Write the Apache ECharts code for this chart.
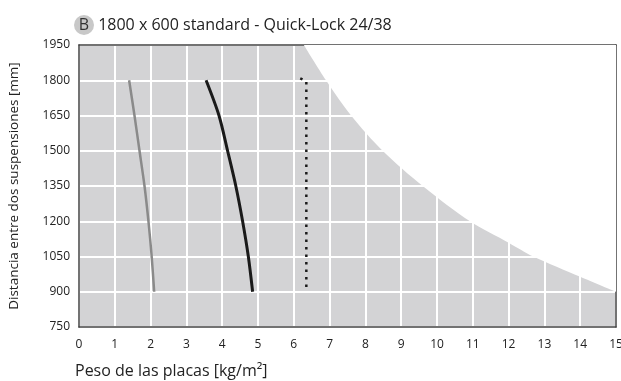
<!DOCTYPE html>
<html>
<head>
<meta charset="utf-8">
<script src="https://cdn.jsdelivr.net/npm/echarts@6/dist/echarts.min.js"></script>
<style>
  html, body { margin: 0; padding: 0; background: #fff; }
  #chart { width: 621px; height: 381px; }
</style>
</head>
<body>
<div id="chart"></div>
<script>
// limit curve: above it the area stays white
var limitCurve = [[6.28, 1950], [6.9, 1800], [7.6, 1650], [8.48, 1500], [9.6, 1350],
  [10.92, 1200], [12, 1109], [12.69, 1050], [14, 964], [15, 900]];
// gray curve
var grayCurve = [[1.40, 1800], [1.55, 1650], [1.69, 1500], [1.83, 1350], [1.94, 1200], [2.03, 1050], [2.10, 900]];
// black curve
var blackCurve = [[3.55, 1800], [3.91, 1650], [4.15, 1500], [4.38, 1350], [4.57, 1200], [4.73, 1050], [4.85, 900]];
// dotted line
var dottedLine = [[6.18, 1808], [6.35, 1796], [6.35, 900]];
var xTicks = [0, 15, 1];
var yTicks = [750, 1950, 150];

var font = "'Open Sans', sans-serif";
var frame = { show: true, onZero: false, lineStyle: { color: "#444", width: 1.5 } };
var chart = echarts.init(document.getElementById("chart"));
var option = {
  animation: false,
  title: {
    text: "{b|B} 1800 x 600 standard - Quick-Lock 24/38",
    left: 69,
    top: 10,
    textStyle: {
      fontFamily: font,
      fontSize: 16,
      fontWeight: "normal",
      color: "#222",
      rich: {
        b: {
          backgroundColor: "#c8c8c8",
          borderRadius: 10,
          width: 20,
          height: 20,
          align: "center",
          fontSize: 16,
          fontFamily: font,
          color: "#333",
        },
      },
    },
  },
  grid: {
    left: 79,
    right: 5,
    top: 45,
    bottom: 54,
    show: true,
    backgroundColor: "#d3d3d5",
    borderWidth: 0,
    outerBoundsMode: "none",
    containLabel: false,
  },
  xAxis: [
    {
      type: "value",
      min: xTicks[0],
      max: xTicks[1],
      interval: xTicks[2],
      name: "Peso de las placas [kg/m²]",
      nameLocation: "start",
      nameGap: 0,
      nameTextStyle: {
        fontFamily: font,
        fontSize: 16,
        color: "#222",
        align: "left",
        verticalAlign: "top",
        padding: [36, 0, 0, -4],
      },
      axisLine: frame,
      axisTick: { show: false },
      axisLabel: { fontFamily: font, fontSize: 12, color: "#222", margin: 12 },
      splitLine: { show: true, lineStyle: { color: "#fff", width: 2 } },
    },
    {
      type: "value",
      position: "top",
      min: xTicks[0],
      max: xTicks[1],
      axisLine: frame,
      axisTick: { show: false },
      axisLabel: { show: false },
      splitLine: { show: false },
    },
  ],
  yAxis: [
    {
      type: "value",
      min: yTicks[0],
      max: yTicks[1],
      interval: yTicks[2],
      name: "Distancia entre dos suspensiones [mm]",
      nameLocation: "middle",
      nameGap: 58,
      nameTextStyle: { fontFamily: font, fontSize: 13.5, color: "#222" },
      axisLine: frame,
      axisTick: { show: false },
      axisLabel: {
        fontFamily: font,
        fontSize: 12,
        color: "#222",
        margin: 9,
        formatter: function (v) { return String(v); },
      },
      splitLine: { show: true, lineStyle: { color: "#fff", width: 2 } },
    },
    {
      type: "value",
      position: "right",
      min: yTicks[0],
      max: yTicks[1],
      axisLine: frame,
      axisTick: { show: false },
      axisLabel: { show: false },
      splitLine: { show: false },
    },
  ],
  series: [
    {
      type: "line",
      data: limitCurve,
      smooth: 0.3,
      symbol: "none",
      lineStyle: { width: 0 },
      areaStyle: { color: "#fff", opacity: 1, origin: "end" },
      z: 1,
    },
    {
      type: "line",
      data: grayCurve,
      smooth: 0.3,
      symbol: "none",
      lineStyle: { color: "#8a8a8a", width: 2.5 },
      z: 3,
    },
    {
      type: "line",
      data: blackCurve,
      smooth: 0.3,
      symbol: "none",
      lineStyle: { color: "#1a1a1a", width: 3 },
      z: 3,
    },
    {
      type: "line",
      data: dottedLine,
      symbol: "none",
      lineStyle: { color: "#1a1a1a", width: 2.5, type: [2.5, 5] },
      z: 3,
    },
  ],
};
chart.setOption(option);
</script>
</body>
</html>
